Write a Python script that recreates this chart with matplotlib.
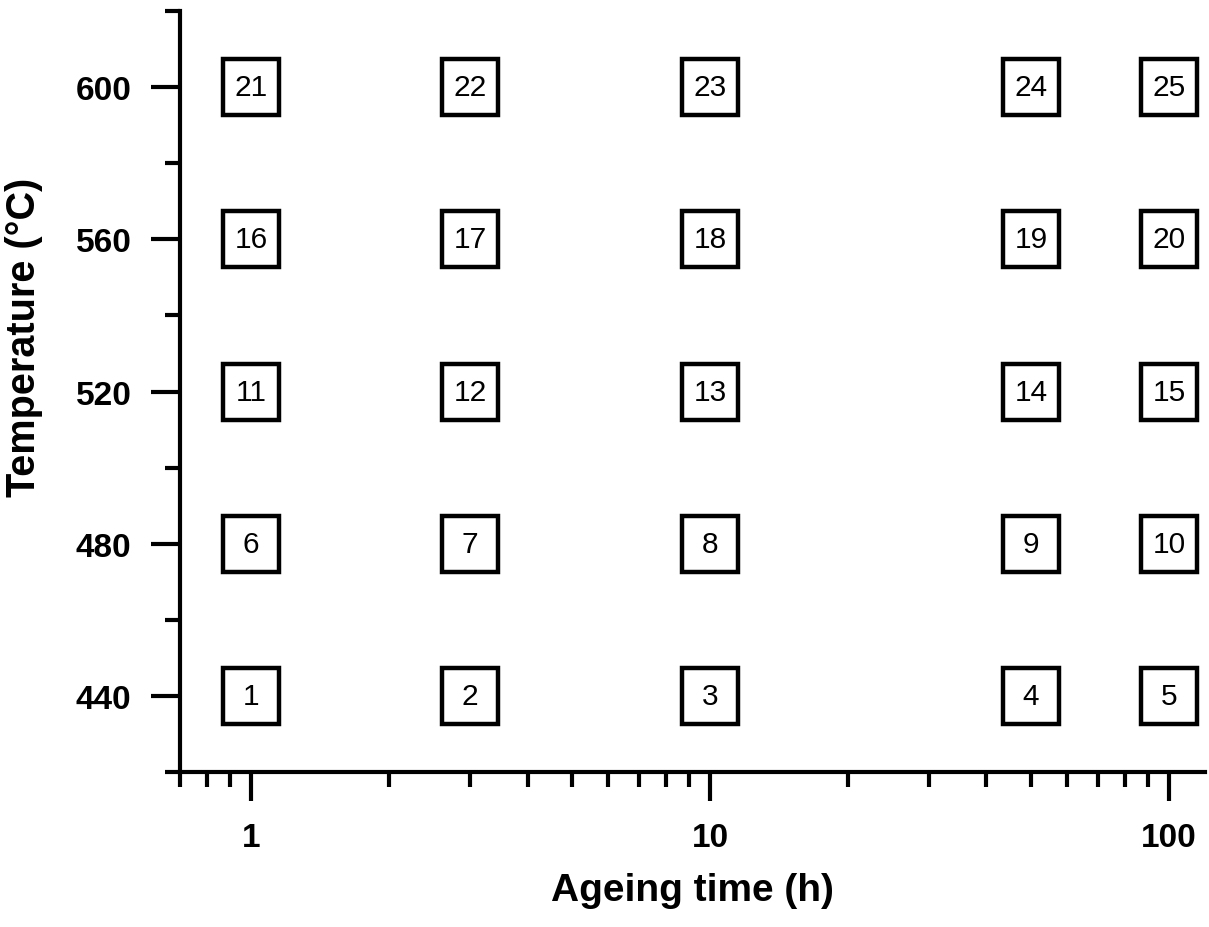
import matplotlib
matplotlib.use('Agg')
import matplotlib.pyplot as plt
from matplotlib.ticker import MultipleLocator, FixedLocator, NullFormatter

plt.rcParams['font.family'] = ['Liberation Sans', 'DejaVu Sans']

# ageing times (h) and temperatures (C) of the test grid
times = [1, 3, 10, 50, 100]
temps = [440, 480, 520, 560, 600]

fig = plt.figure(figsize=(12.09, 9.28), dpi=100)
ax = fig.add_axes([0.149, 0.167, 0.848, 0.820])

n = 1
for t in temps:
    for h in times:
        ax.plot(h, t, marker='s', ms=40, mew=3.2, mfc='white', mec='black',
                linestyle='none', zorder=3)
        ax.text(h, t, str(n), ha='center', va='center', fontsize=21.5, zorder=4)
        n += 1

ax.set_xscale('log')
ax.set_xlim(0.7, 120)
ax.set_ylim(420, 620)

ax.xaxis.set_major_locator(FixedLocator([1, 10, 100]))
ax.set_xticklabels(['1', '10', '100'])
minors = [0.7, 0.8, 0.9] + [i for i in range(2, 10)] + [i * 10 for i in range(2, 10)]
ax.xaxis.set_minor_locator(FixedLocator(minors))
ax.xaxis.set_minor_formatter(NullFormatter())

ax.yaxis.set_major_locator(FixedLocator([440, 480, 520, 560, 600]))
ax.yaxis.set_minor_locator(MultipleLocator(20))

for s in ['top', 'right']:
    ax.spines[s].set_visible(False)
for s in ['left', 'bottom']:
    ax.spines[s].set_linewidth(3)

ax.tick_params(which='major', direction='out', length=21, width=3,
               labelsize=24, pad=15)
ax.tick_params(which='minor', direction='out', length=11, width=3)
ax.tick_params(axis='y', which='major', pad=14)
for lab in ax.get_xticklabels() + ax.get_yticklabels():
    lab.set_fontweight('bold')

ax.set_xlabel('Ageing time (h)', fontsize=28, fontweight='bold')
ax.set_ylabel('Temperature (°C)', fontsize=28.5, fontweight='bold')
ax.xaxis.set_label_coords(0.5, -0.131)
ax.yaxis.set_label_coords(-0.134, 0.572)

fig.savefig('out.png', dpi=100)
